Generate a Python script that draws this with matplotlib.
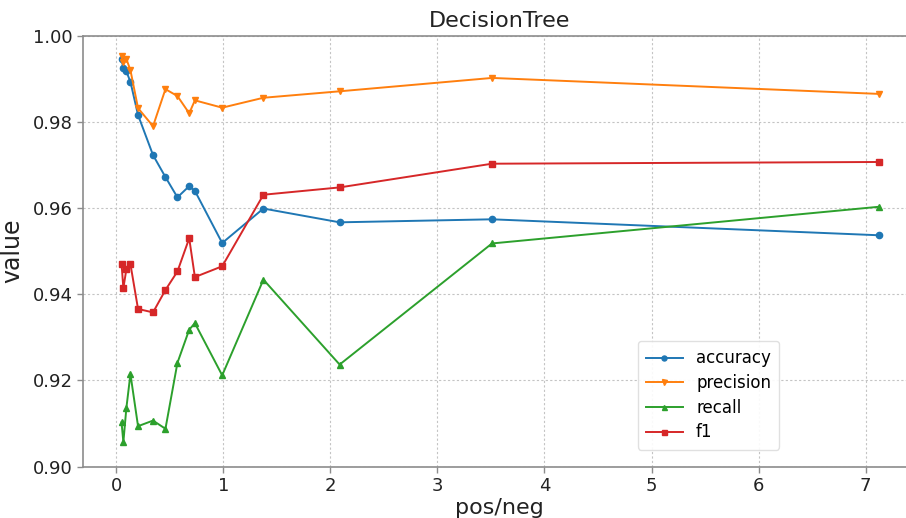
import matplotlib

matplotlib.use("Agg")
import matplotlib.pyplot as plt


# class ratio of each training split
pos_neg = [0.05, 0.067, 0.095, 0.133, 0.204, 0.344, 0.46, 0.572, 0.682, 0.735, 0.99, 1.375, 2.087, 3.51, 7.12]

accuracy = [0.9945, 0.9924, 0.9917, 0.9893, 0.9816, 0.9723, 0.9672, 0.9625, 0.9651, 0.9640,
            0.9519, 0.9599, 0.9567, 0.9574, 0.9537]
precision = [0.9953, 0.9938, 0.9946, 0.9920, 0.9832, 0.9790, 0.9876, 0.9860, 0.9820, 0.9850,
             0.9833, 0.9856, 0.9871, 0.9902, 0.9865]
recall = [0.9103, 0.9057, 0.9136, 0.9215, 0.9094, 0.9107, 0.9088, 0.9241, 0.9318, 0.9333,
          0.9212, 0.9434, 0.9237, 0.9518, 0.9603]
f1 = [0.9471, 0.9414, 0.9458, 0.9470, 0.9366, 0.9358, 0.9410, 0.9453, 0.9530, 0.9440,
      0.9465, 0.9631, 0.9648, 0.9703, 0.9707]

SERIES = [
    ("accuracy", accuracy, "#1f77b4", "o"),
    ("precision", precision, "#ff7f0e", "v"),
    ("recall", recall, "#2ca02c", "^"),
    ("f1", f1, "#d62728", "s"),
]

GRAY = "#8c8c8c"


def main():
    fig = plt.figure(figsize=(9.06, 5.18), dpi=100)
    # axes run a little past the right edge, so no right spine is drawn
    ax = fig.add_axes([83 / 906, 1 - 466.7 / 518, 833 / 906, 431 / 518])

    for name, values, color, marker in SERIES:
        ax.plot(pos_neg, values, color=color, marker=marker, markersize=4.5, linewidth=1.4, label=name)

    ax.set_xlim(-0.31, 7.47)
    ax.set_ylim(0.90, 1.00)
    ax.set_xticks(range(0, 8))
    ax.set_yticks([0.90, 0.92, 0.94, 0.96, 0.98, 1.00])
    ax.set_yticklabels([f"{v:.2f}" for v in ax.get_yticks()])

    ax.grid(True, linestyle=(0, (2, 2)), linewidth=0.8, color="#c4c4c4")
    ax.set_axisbelow(True)
    for side in ("left", "bottom", "top"):
        ax.spines[side].set_color(GRAY)
        ax.spines[side].set_linewidth(1.2)
    ax.spines["right"].set_visible(False)
    ax.tick_params(axis="both", labelsize=13, color=GRAY, length=4, width=1.0, labelcolor="#222222")

    ax.set_title("DecisionTree", fontsize=16, color="#222222", pad=6)
    ax.set_xlabel("pos/neg", fontsize=16, color="#222222", labelpad=2)
    ax.set_ylabel("value", fontsize=17, color="#222222", labelpad=6)

    ax.legend(loc="lower right", bbox_to_anchor=(0.846, 0.02), fontsize=12,
              frameon=True, framealpha=0.9, edgecolor="#dddddd", handlelength=2.2,
              borderpad=0.5, labelspacing=0.4, markerscale=0.8)

    fig.savefig("out.png", dpi=100)


if __name__ == "__main__":
    main()
